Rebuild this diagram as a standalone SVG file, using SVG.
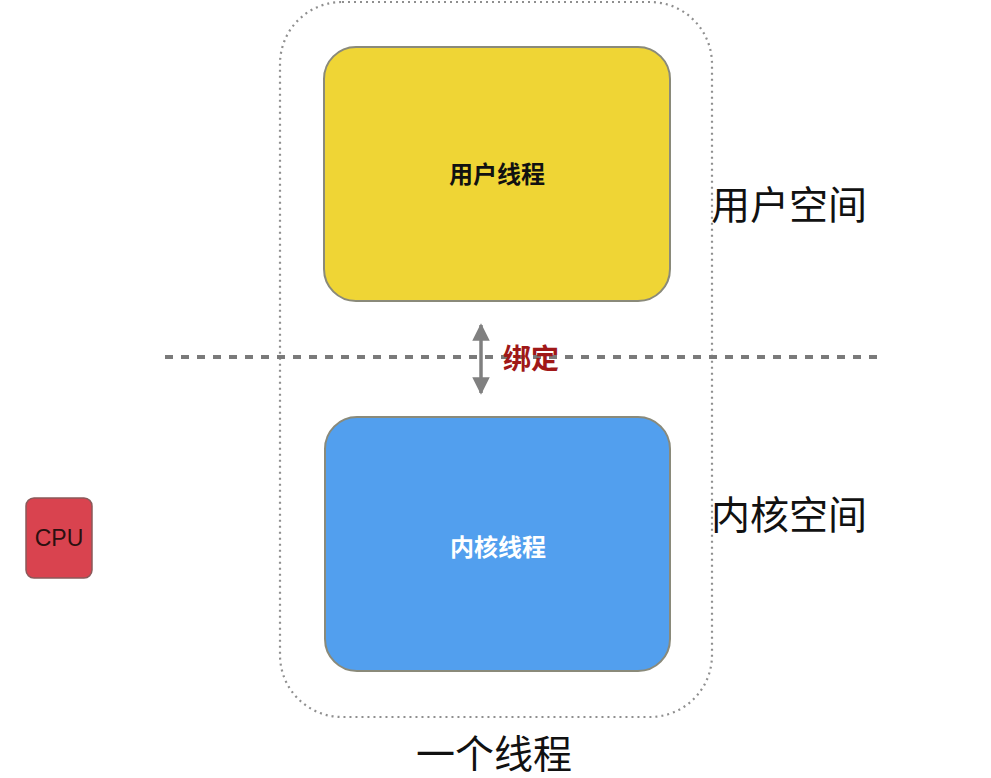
<svg xmlns="http://www.w3.org/2000/svg" width="991" height="778" viewBox="0 0 991 778">
<style>
.big{font-family:"Noto Sans CJK SC","Liberation Sans",sans-serif;font-size:39px;fill:#111;}
.inner{font-family:"Noto Sans CJK SC","Liberation Sans",sans-serif;font-size:24px;font-weight:bold;text-anchor:middle;}
.box{stroke:#8a8a7a;stroke-width:2;}
</style>
<defs>
<marker id="ah" viewBox="0 0 10 10" refX="9" refY="5" markerWidth="5.5" markerHeight="5" orient="auto-start-reverse" markerUnits="strokeWidth">
<path d="M0,0 L10,5 L0,10 z" fill="#808080"/>
</marker>
</defs>
<rect width="991" height="778" fill="#ffffff"/>
<g id="thread-boundary">
<rect x="280" y="2" width="432" height="715" rx="62" ry="62" fill="none" stroke="#8f8f8f" stroke-width="2.2" stroke-dasharray="2 4"/>
</g>
<g id="divider">
<line x1="165" y1="357" x2="882" y2="357" stroke="#7a7a7a" stroke-width="4" stroke-dasharray="8 8"/>
</g>
<g id="user-thread">
<rect class="box" x="324" y="47" width="346" height="254" rx="32" ry="32" fill="#efd535"/>
<text class="inner" x="497" y="183" fill="#111">用户线程</text>
</g>
<g id="kernel-thread">
<rect class="box" x="325" y="417" width="345" height="254" rx="32" ry="32" fill="#529fee" stroke="#5a7ea6"/>
<text class="inner" x="498" y="556" fill="#ffffff">内核线程</text>
</g>
<g id="cpu">
<rect x="26" y="498" width="66" height="80" rx="8" ry="8" fill="#d9434f" stroke="#8a5a5a" stroke-width="1.5"/>
<text x="59" y="546" font-family="Liberation Sans,Arial,sans-serif" font-size="23" fill="#2a1010" text-anchor="middle">CPU</text>
</g>
<g id="connectors">
<line x1="481" y1="325" x2="481" y2="393" stroke="#808080" stroke-width="3.5" marker-start="url(#ah)" marker-end="url(#ah)"/>
<text x="503" y="369" font-family="Noto Sans CJK SC,sans-serif" font-size="28" font-weight="bold" fill="#a01818">绑定</text>
</g>
<g id="labels">
<text class="big" x="711" y="219">用户空间</text>
<text class="big" x="711" y="529">内核空间</text>
<text class="big" x="416" y="768">一个线程</text>
</g>
</svg>
